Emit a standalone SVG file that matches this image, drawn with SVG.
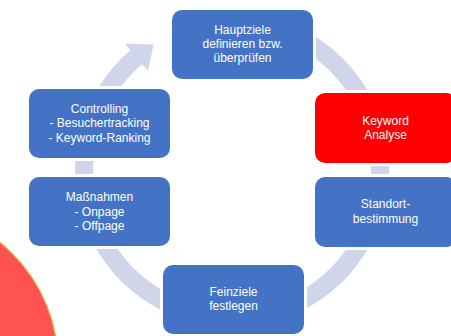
<svg xmlns="http://www.w3.org/2000/svg" width="451" height="336" viewBox="0 0 451 336">
<style>
.box{fill:#4472C4}
.hot{fill:#FF0000}
.gap{fill:#FFFFFF}
.lbl{font-family:"Liberation Sans",Arial,sans-serif;font-size:12px;fill:#FFFFFF;text-anchor:middle}
.ring{fill:none;stroke:#CFD5EA;stroke-width:18}
</style>
<rect width="451" height="336" fill="#FFFFFF"/>
<circle cx="-98" cy="364" r="156" fill="#FF5252" stroke="#F4A52A" stroke-width="1.2"/>
<g id="connectors">
<path class="ring" d="M181.4,30.9 A148,148 0 0 1 306,298.2 A148,148 0 0 1 137.9,55.8"/>
<polygon points="124.6,43.4 153.6,44.5 147.9,70.8" fill="#CFD5EA"/>
</g>
<g id="hauptziele">
<rect class="gap" x="169" y="7" width="147" height="75" rx="13"/>
<rect class="box" x="172" y="10" width="141" height="69" rx="10"/>
<text class="lbl" x="242.5" y="34">Hauptziele</text>
<text class="lbl" x="242.5" y="48">definieren bzw.</text>
<text class="lbl" x="242.5" y="62">überprüfen</text>
</g>
<g id="keyword">
<rect class="gap" x="312" y="90" width="147" height="76" rx="13"/>
<rect class="hot" x="315" y="93" width="141" height="70" rx="10"/>
<text class="lbl" x="385.5" y="125">Keyword</text>
<text class="lbl" x="385.5" y="139">Analyse</text>
</g>
<g id="standort">
<rect class="gap" x="312" y="174" width="147" height="76" rx="13"/>
<rect class="box" x="315" y="177" width="141" height="70" rx="10"/>
<text class="lbl" x="385.5" y="208">Standort-</text>
<text class="lbl" x="385.5" y="223">bestimmung</text>
</g>
<g id="feinziele">
<rect class="gap" x="160" y="262" width="147" height="75" rx="13"/>
<rect class="box" x="163" y="265" width="141" height="69" rx="10"/>
<text class="lbl" x="233.5" y="296">Feinziele</text>
<text class="lbl" x="233.5" y="310">festlegen</text>
</g>
<g id="massnahmen">
<rect class="gap" x="26" y="174" width="147" height="75" rx="13"/>
<rect class="box" x="29" y="177" width="141" height="69" rx="10"/>
<text class="lbl" x="99.5" y="201">Maßnahmen</text>
<text class="lbl" x="99.5" y="215.5">- Onpage</text>
<text class="lbl" x="99.5" y="230">- Offpage</text>
</g>
<g id="controlling">
<rect class="gap" x="26" y="86" width="147" height="75" rx="13"/>
<rect class="box" x="29" y="89" width="141" height="69" rx="10"/>
<text class="lbl" x="99.5" y="113">Controlling</text>
<text class="lbl" x="99.5" y="127">- Besuchertracking</text>
<text class="lbl" x="99.5" y="141.5">- Keyword-Ranking</text>
</g>
</svg>
